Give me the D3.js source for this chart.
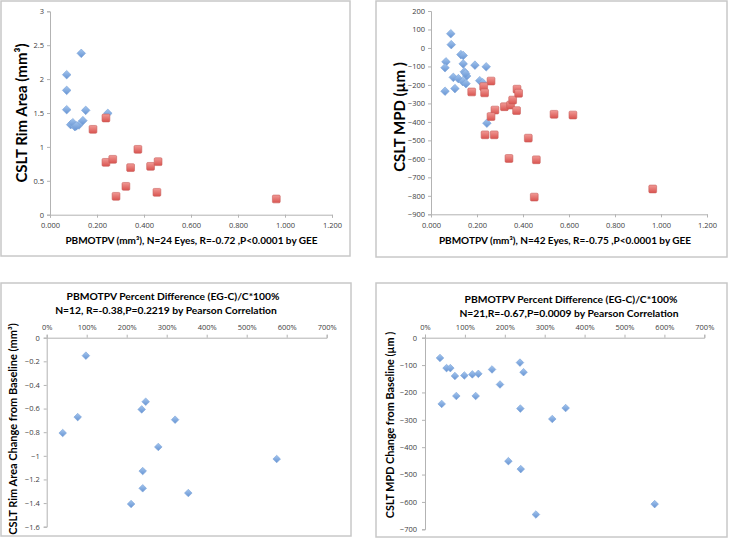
<!DOCTYPE html>
<html><head><meta charset="utf-8">
<script src="https://cdn.jsdelivr.net/npm/d3@7"></script>
<style>
body{margin:0;background:#fff;}
svg{display:block;}
text{font-family:Lato,"Open Sans",sans-serif;}
</style></head>
<body><svg id="c" width="729" height="539"></svg>
<script>
// ---------- DATA ----------
// Panel A: CSLT Rim Area vs PBMOTPV
const rimControlX = [0.071,0.071,0.071,0.133,0.088,0.097,0.106,0.123,0.140,0.152,0.246,0.112];
const rimControlY = [2.065,1.834,1.549,2.380,1.328,1.357,1.298,1.323,1.387,1.539,1.495,1.310];
const rimGlaucX = [0.183,0.238,0.238,0.267,0.281,0.323,0.343,0.374,0.428,0.460,0.455,0.963];
const rimGlaucY = [1.259,1.426,0.772,0.817,0.271,0.418,0.694,0.964,0.713,0.782,0.330,0.232];
// Panel B: CSLT MPD vs PBMOTPV
const mpdControlX = [0.086,0.088,0.130,0.140,0.065,0.061,0.140,0.191,0.240,0.145,0.155,0.097,0.119,0.138,0.152,0.212,0.225,0.061,0.104,0.243,0.150];
const mpdControlY = [77,18,-36,-41,-75,-107,-86,-93,-102,-129,-152,-159,-166,-182,-193,-177,-188,-234,-220,-407,-138];
const mpdGlaucX = [0.177,0.261,0.229,0.233,0.278,0.261,0.319,0.346,0.355,0.374,0.381,0.372,0.235,0.275,0.339,0.423,0.458,0.449,0.535,0.617,0.964];
const mpdGlaucY = [-238,-179,-209,-243,-336,-371,-318,-309,-282,-223,-245,-339,-470,-470,-598,-488,-605,-807,-359,-363,-763];
// Panel C: Rim area change vs percent difference
const rimChangePct = [98,77.5,40,237.5,247.5,321,279,575,240,240,354,211];
const rimChange = [-0.152,-0.672,-0.807,-0.607,-0.542,-0.694,-0.925,-1.027,-1.129,-1.275,-1.315,-1.408];
// Panel D: MPD change vs percent difference
const mpdChangePct = [37.6,41.8,54,63.5,75,78.5,98.6,118.6,133.7,127,168,188,238,247,239,209,240,278,319,352.5,575.6];
const mpdChange = [-74,-242,-111,-111,-140,-213,-138,-134,-132,-213,-116,-171,-91,-126,-259,-451,-480,-646,-297,-257,-608];

const ticksA_Y = [0,0.5,1,1.5,2,2.5,3];
const ticksB_Y = [200,100,0,-100,-200,-300,-400,-500,-600,-700,-800,-900];
const ticksX_top = [0,0.2,0.4,0.6,0.8,1.0,1.2];
const ticksC_Y = [0,-0.2,-0.4,-0.6,-0.8,-1,-1.2,-1.4,-1.6];
const ticksD_Y = [0,-100,-200,-300,-400,-500,-600,-700];
const ticksPct = [0,100,200,300,400,500,600,700];

const titleA_X = "PBMOTPV (mm³), N=24 Eyes, R=-0.72 ,P<0.0001 by GEE";
const titleA_Y = "CSLT Rim Area (mm³)";
const titleB_X = "PBMOTPV (mm³),  N=42 Eyes, R=-0.75 ,P<0.0001 by GEE";
const titleB_Y = "CSLT MPD (µm )";
const titleC = ["PBMOTPV Percent Difference (EG-C)/C*100%","N=12, R=-0.38,P=0.2219 by Pearson Correlation"];
const titleC_Y = "CSLT Rim Area Change from Baseline (mm³)";
const titleD = ["PBMOTPV Percent Difference (EG-C)/C*100%","N=21,R=-0.67,P=0.0009 by Pearson Correlation"];
const titleD_Y = "CSLT MPD Change from Baseline (µm )";

// ---------- DRAW ----------
const svg = d3.select("#c");
const defs = svg.append("defs");
function grad(id, c1, c2){
  const g = defs.append("linearGradient").attr("id",id).attr("x1",0).attr("y1",0).attr("x2",0).attr("y2",1);
  g.append("stop").attr("offset","0%").attr("stop-color",c1);
  g.append("stop").attr("offset","100%").attr("stop-color",c2);
}
grad("gb","#a3c5ee","#6794d3");
grad("gr","#f19a96","#d9534f");

const axisCol = "#b3b3b3", tickCol = "#404040";

function frame(x0,y0,x1,y1){
  svg.append("rect").attr("x",x0).attr("y",y0).attr("width",x1-x0).attr("height",y1-y0)
    .attr("fill","none").attr("stroke","#c8c8c8").attr("stroke-width",1.5);
}
function styleAxis(g){
  g.selectAll(".domain").attr("stroke",axisCol);
  g.selectAll(".tick line").attr("stroke",axisCol);
  g.selectAll(".tick text").attr("fill",tickCol).style("font-size","7.5px").style("font-family","'Open Sans',sans-serif");
}
function diamonds(xs,ys,xS,yS,r){
  svg.append("g").selectAll("path").data(xs.map((v,i)=>[v,ys[i]])).join("path")
    .attr("d",`M0,${-r}L${r},0L0,${r}L${-r},0Z`)
    .attr("transform",d=>`translate(${xS(d[0])},${yS(d[1])})`)
    .attr("fill","url(#gb)").attr("stroke","#7aa2d8").attr("stroke-width",0.6);
}
function squares(xs,ys,xS,yS,s){
  svg.append("g").selectAll("rect").data(xs.map((v,i)=>[v,ys[i]])).join("rect")
    .attr("x",d=>xS(d[0])-s).attr("y",d=>yS(d[1])-s).attr("width",2*s).attr("height",2*s).attr("rx",1.2)
    .attr("fill","url(#gr)").attr("stroke","#c9605c").attr("stroke-width",0.6);
}
function yTitle(txt,x,y,size){
  svg.append("text").attr("transform",`translate(${x},${y}) rotate(-90)`).attr("text-anchor","middle")
    .attr("font-weight","bold").style("font-size",size+"px").attr("fill","#000").text(txt);
}
function hText(txt,x,y,size){
  svg.append("text").attr("x",x).attr("y",y).attr("text-anchor","middle")
    .attr("font-weight","bold").style("font-size",size+"px").attr("fill","#000").text(txt);
}
const fmt3 = d3.format(".3f");

// Panel A
frame(1,1,350,256);
{
  const x = d3.scaleLinear().domain([0,1.2]).range([50,332]);
  const y = d3.scaleLinear().domain([0,3]).range([214.7,11.3]);
  const gx = svg.append("g").attr("transform","translate(0,214.7)")
    .call(d3.axisBottom(x).tickValues(ticksX_top).tickFormat(fmt3).tickSizeOuter(0).tickSize(3).tickPadding(5));
  styleAxis(gx);
  const gy = svg.append("g").attr("transform","translate(50,0)")
    .call(d3.axisLeft(y).tickValues(ticksA_Y).tickFormat(d3.format("")).tickSizeOuter(0).tickSize(3).tickPadding(3));
  styleAxis(gy);
  diamonds(rimControlX,rimControlY,x,y,4.3);
  squares(rimGlaucX,rimGlaucY,x,y,3.9);
  hText(titleA_X,191.5,244,10);
  yTitle(titleA_Y,27,113,15);
}
// Panel B
frame(376,1,727,257);
{
  const x = d3.scaleLinear().domain([0,1.2]).range([431,707]);
  const y = d3.scaleLinear().domain([-900,200]).range([214.3,11]);
  const gx = svg.append("g").attr("transform","translate(0,214.3)")
    .call(d3.axisBottom(x).tickValues(ticksX_top).tickFormat(fmt3).tickSizeOuter(0).tickSize(3).tickPadding(5));
  styleAxis(gx);
  const gy = svg.append("g").attr("transform","translate(431,0)")
    .call(d3.axisLeft(y).tickValues(ticksB_Y).tickFormat(d3.format("")).tickSizeOuter(0).tickSize(3).tickPadding(3));
  styleAxis(gy);
  diamonds(mpdControlX,mpdControlY,x,y,4.3);
  squares(mpdGlaucX,mpdGlaucY,x,y,3.9);
  hText(titleB_X,565,244,10);
  yTitle(titleB_Y,405,117,15);
}
// Panel C
frame(1,283,351,536);
{
  const x = d3.scaleLinear().domain([0,700]).range([46.7,326.7]);
  const y = d3.scaleLinear().domain([-1.6,0]).range([526.7,337.7]);
  const gx = svg.append("g").attr("transform","translate(0,337.7)")
    .call(d3.axisTop(x).tickValues(ticksPct).tickFormat(d=>d+"%").tickSizeOuter(0).tickSize(3).tickPadding(5));
  styleAxis(gx);
  const gy = svg.append("g").attr("transform","translate(46.7,0)")
    .call(d3.axisLeft(y).tickValues(ticksC_Y).tickFormat(d3.format("")).tickSizeOuter(0).tickSize(3).tickPadding(4));
  styleAxis(gy);
  diamonds(rimChangePct,rimChange,x,y,3.8);
  hText(titleC[0],173,300,10.3);
  hText(titleC[1],166,314,10.3);
  yTitle(titleC_Y,17,429,11);
}
// Panel D
frame(376,283,727,537);
{
  const x = d3.scaleLinear().domain([0,700]).range([425,704.3]);
  const y = d3.scaleLinear().domain([-700,0]).range([529.3,337.7]);
  const gx = svg.append("g").attr("transform","translate(0,337.7)")
    .call(d3.axisTop(x).tickValues(ticksPct).tickFormat(d=>d+"%").tickSizeOuter(0).tickSize(3).tickPadding(5));
  styleAxis(gx);
  const gy = svg.append("g").attr("transform","translate(425,0)")
    .call(d3.axisLeft(y).tickValues(ticksD_Y).tickFormat(d3.format("")).tickSizeOuter(0).tickSize(3).tickPadding(5));
  styleAxis(gy);
  diamonds(mpdChangePct,mpdChange,x,y,3.8);
  hText(titleD[0],571,303,10.3);
  hText(titleD[1],569,317,10.3);
  yTitle(titleD_Y,394,425,10.8);
}
</script></body></html>
